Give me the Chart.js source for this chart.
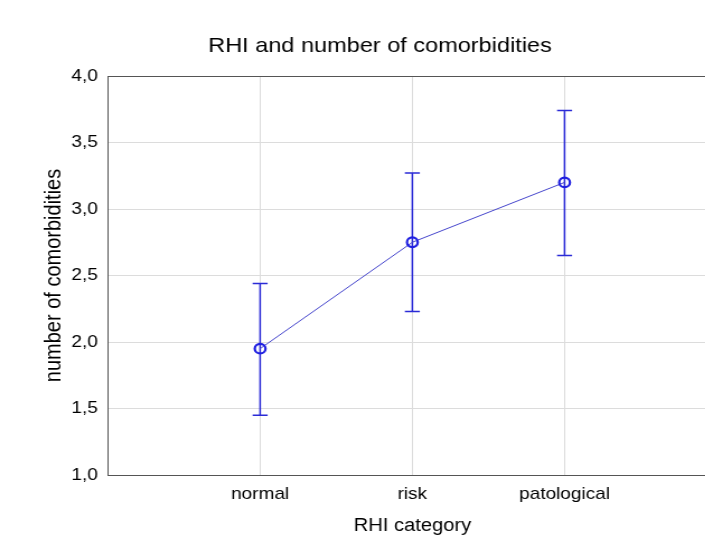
<!DOCTYPE html>
<html>
<head>
<meta charset="utf-8">
<script src="https://cdn.jsdelivr.net/npm/chart.js@4"></script>
<style>
  html, body { margin: 0; padding: 0; background: #fff; overflow: hidden; }
</style>
</head>
<body>
<canvas id="chart" width="679" height="538" style="width:760px;height:538px"></canvas>
<script>
var categories = ['normal', 'risk', 'patological'];
var means = [1.95, 2.75, 3.20];
var lowerBounds = [1.45, 2.23, 2.65];
var upperBounds = [2.44, 3.27, 3.74];
var yTicks = [1.0, 1.5, 2.0, 2.5, 3.0, 3.5, 4.0];

var fontFamily = '"Liberation Sans", Arial, sans-serif';
var blue = '#1f1fe0';

// frame round the plot area + error bars drawn from the scales
var plotExtras = {
    id: 'plotExtras',
    afterLayout: function (chart) {
        // center the title on the whole canvas, not on the padded box
        if (chart.titleBlock) {
            chart.titleBlock.left = 0;
            chart.titleBlock.right = chart.width;
        }
    },
    beforeDatasetsDraw: function (chart) {
        var ctx = chart.ctx;
        var xs = chart.scales.x, ys = chart.scales.y;
        ctx.save();
        ctx.strokeStyle = '#2a2ad6';
        ctx.lineWidth = 1.5;
        for (var i = 0; i < categories.length; i++) {
            var px = xs.getPixelForValue(i + 1);
            var top = ys.getPixelForValue(upperBounds[i]);
            var bot = ys.getPixelForValue(lowerBounds[i]);
            ctx.beginPath();
            ctx.moveTo(px, top);
            ctx.lineTo(px, bot);
            ctx.moveTo(px - 6.7, top);
            ctx.lineTo(px + 6.7, top);
            ctx.moveTo(px - 6.7, bot);
            ctx.lineTo(px + 6.7, bot);
            ctx.stroke();
        }
        ctx.restore();
    },
    afterDraw: function (chart) {
        var a = chart.chartArea, ctx = chart.ctx;
        ctx.save();
        ctx.strokeStyle = '#555';
        ctx.lineWidth = 1;
        ctx.strokeRect(Math.round(a.left) + 0.5, Math.round(a.top) + 0.5,
            Math.round(a.right - a.left), Math.round(a.bottom - a.top));
        ctx.restore();
    }
};

var ctx = document.getElementById('chart').getContext('2d');
var chart = new Chart(ctx, {
    type: 'line',
    data: {
        datasets: [{
            label: 'number of comorbidities',
            data: means.map(function (m, i) { return { x: i + 1, y: m }; }),
            borderColor: '#4646cc',
            borderWidth: 1,
            pointRadius: 4.8,
            pointBorderWidth: 2.2,
            pointBorderColor: blue,
            pointBackgroundColor: 'rgba(255,255,255,0)',
            fill: false,
            tension: 0
        }]
    },
    options: {
        responsive: false,
        animation: false,
        events: [],
        layout: { padding: { left: 0, right: 38.6, top: 0, bottom: 0 } },
        plugins: {
            legend: { display: false },
            tooltip: { enabled: false },
            title: {
                display: true,
                text: 'RHI and number of comorbidities',
                color: '#000',
                font: { family: fontFamily, size: 21, weight: 'normal' },
                padding: { top: 33.4, bottom: 17.4 }
            }
        },
        scales: {
            x: {
                type: 'linear',
                min: 0,
                max: 4,
                afterFit: function (s) { s.height = 63; },
                afterBuildTicks: function (s) {
                    s.ticks = [0, 1, 2, 3, 4].map(function (v) { return { value: v }; });
                },
                ticks: {
                    color: '#000',
                    padding: 9.5,
                    maxRotation: 0,
                    font: { family: fontFamily, size: 17 },
                    callback: function (v) { return categories[v - 1] || ''; }
                },
                grid: {
                    drawTicks: false,
                    color: function (c) {
                        return (c.tick && (c.tick.value === 0 || c.tick.value === 4)) ? 'rgba(0,0,0,0)' : '#dcdcdc';
                    }
                },
                border: { color: '#555' },
                title: {
                    display: true,
                    text: 'RHI category',
                    color: '#000',
                    font: { family: fontFamily, size: 18 },
                    padding: { top: 0, bottom: 1.2 }
                }
            },
            y: {
                min: 1,
                max: 4,
                afterFit: function (s) { s.width = 96.4; },
                afterBuildTicks: function (s) {
                    s.ticks = yTicks.map(function (v) { return { value: v }; });
                },
                ticks: {
                    color: '#000',
                    padding: 9,
                    font: { family: fontFamily, size: 17 },
                    callback: function (v) { return Number(v).toFixed(1).replace('.', ','); }
                },
                grid: {
                    drawTicks: false,
                    color: function (c) {
                        return (c.tick && (c.tick.value === 1 || c.tick.value === 4)) ? 'rgba(0,0,0,0)' : '#dcdcdc';
                    }
                },
                border: { color: '#555' },
                title: {
                    display: true,
                    text: 'number of comorbidities',
                    color: '#000',
                    font: { family: fontFamily, size: 20 },
                    padding: { top: 36.4, bottom: 0 }
                }
            }
        }
    },
    plugins: [plotExtras]
});
</script>
</body>
</html>
